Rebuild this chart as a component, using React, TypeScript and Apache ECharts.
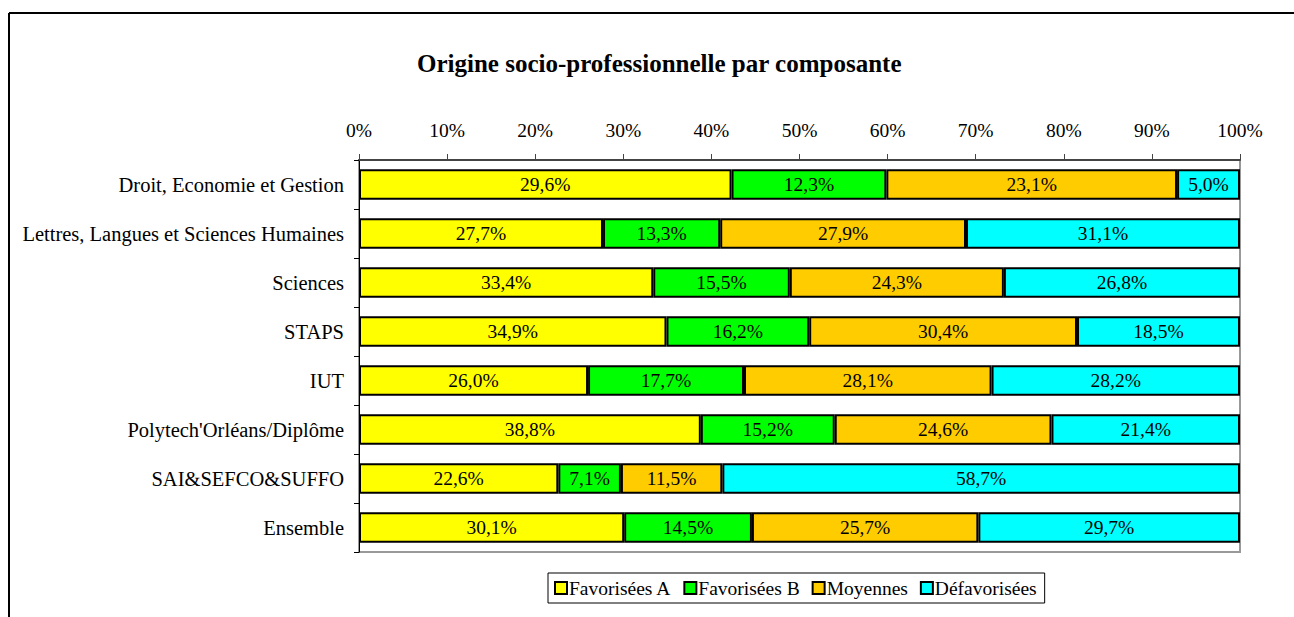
import React, { useEffect, useRef } from "react";
import * as echarts from "echarts";

const categories = [
  "Droit, Economie et Gestion",
  "Lettres, Langues et Sciences Humaines",
  "Sciences",
  "STAPS",
  "IUT",
  "Polytech'Orléans/Diplôme",
  "SAI&SEFCO&SUFFO",
  "Ensemble",
];
const favA = [29.6, 27.7, 33.4, 34.9, 26.0, 38.8, 22.6, 30.1];
const favB = [12.3, 13.3, 15.5, 16.2, 17.7, 15.2, 7.1, 14.5];
const moyennes = [23.1, 27.9, 24.3, 30.4, 28.1, 24.6, 11.5, 25.7];
const defav = [5.0, 31.1, 26.8, 18.5, 28.2, 21.4, 58.7, 29.7];
const seriesNames = ["Favorisées A", "Favorisées B", "Moyennes", "Défavorisées"];
const colors = ["#FFFF00", "#00FF00", "#FFCC00", "#00FFFF"];
const xTicks = [0, 10, 20, 30, 40, 50, 60, 70, 80, 90, 100];

const FONT = "Liberation Serif";

export default function App() {
  const ref = useRef<HTMLDivElement>(null);
  useEffect(() => {
    if (!ref.current) return;
    const chart = echarts.init(ref.current, null, { renderer: "svg" });
    const all = [favA, favB, moyennes, defav];
    const totals = categories.map((_, i) => all.reduce((s, arr) => s + arr[i], 0));
    const series = all.map((arr, si) => ({
      name: seriesNames[si],
      type: "bar",
      stack: "total",
      barCategoryGap: "38%",
      data: arr.map((v, i) => (v / totals[i]) * 100),
      itemStyle: { color: colors[si], borderColor: "#000", borderWidth: 2 },
      label: {
        show: true,
        position: "inside",
        color: "#000",
        fontFamily: FONT,
        fontSize: 19.5,
        formatter: (p: any) => arr[p.dataIndex].toFixed(1).replace(".", ",") + "%",
      },
    }));
    chart.setOption({
      animation: false,
      backgroundColor: "#fff",
      textStyle: { fontFamily: FONT },
      title: {
        text: "Origine socio-professionnelle par composante",
        left: 412,
        top: 46,
        textStyle: { fontFamily: FONT, fontSize: 25, fontWeight: "bold", color: "#000" },
      },
      grid: {
        left: 359,
        right: 54,
        top: 160,
        bottom: 65,
        show: true,
        borderColor: "#999",
        borderWidth: 2,
      },
      legend: {
        data: seriesNames,
        left: 548,
        top: 573,
        orient: "horizontal",
        padding: [5, 8, 5, 6],
        itemGap: 12,
        itemWidth: 12,
        itemHeight: 12,
        icon: "rect",
        borderColor: "#000",
        borderWidth: 1,
        textStyle: { fontFamily: FONT, fontSize: 19.5, color: "#000", padding: [0, 0, 0, -3] },
        itemStyle: { borderColor: "#000", borderWidth: 2 },
      },
      xAxis: {
        type: "value",
        position: "top",
        min: xTicks[0],
        max: xTicks[xTicks.length - 1],
        interval: 10,
        axisLine: { show: true, lineStyle: { color: "#444", width: 2 } },
        axisTick: { show: true, inside: false, length: 6, lineStyle: { color: "#444" } },
        splitLine: { show: false },
        axisLabel: {
          margin: 20,
          fontFamily: FONT,
          fontSize: 19.5,
          color: "#000",
          formatter: "{value}%",
        },
      },
      yAxis: {
        type: "category",
        inverse: true,
        data: categories,
        axisLine: { show: true, lineStyle: { color: "#000", width: 1 } },
        axisTick: { show: true, length: 5, lineStyle: { color: "#000" } },
        axisLabel: { margin: 15, fontFamily: FONT, fontSize: 20.5, color: "#000" },
      },
      graphic: [
        { type: "line", shape: { x1: 9, y1: 13, x2: 1294, y2: 13 }, style: { stroke: "#000", lineWidth: 2 } },
        { type: "line", shape: { x1: 9, y1: 13, x2: 9, y2: 617 }, style: { stroke: "#000", lineWidth: 2 } },
      ],
      series,
    });
    return () => chart.dispose();
  }, []);
  return <div ref={ref} style={{ width: 1294, height: 617, position: "absolute", left: 0, top: 0 }} />;
}
